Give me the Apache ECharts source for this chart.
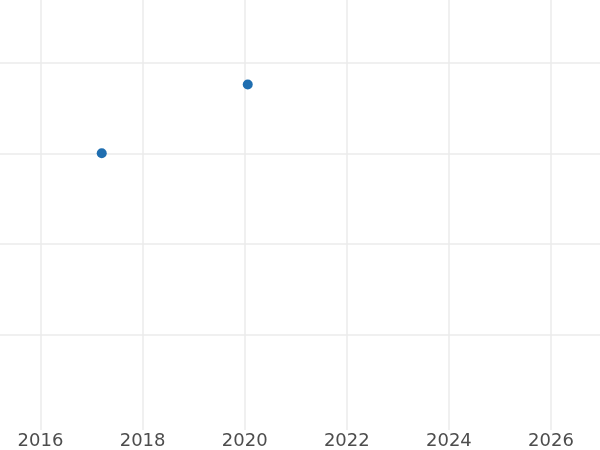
<!DOCTYPE html>
<html>
<head>
<meta charset="utf-8">
<script src="https://cdn.jsdelivr.net/npm/echarts@6/dist/echarts.min.js"></script>
<style>
html,body{margin:0;padding:0;background:#fff;}
#chart{width:600px;height:450px;}
</style>
</head>
<body>
<div id="chart"></div>
<script>
// Data (decimal years, values)
const years = [2017.2, 2020.06];
const values = [3.0, 3.76];
const xTicks = [2016, 2018, 2020, 2022, 2024, 2026];
const yTicks = [1, 2, 3, 4];

const points = years.map((y, i) => [y, values[i]]);

const chart = echarts.init(document.getElementById('chart'), null, {renderer: 'canvas'});
chart.setOption({
  animation: false,
  backgroundColor: '#ffffff',
  grid: { left: 0, right: 0, top: 0, bottom: 18 },
  xAxis: {
    type: 'value',
    min: 2015.207, max: 2026.96,
    axisLine: { show: false },
    axisTick: { show: false, customValues: xTicks },
    axisLabel: {
      color: '#4d4d4d', fontSize: 18, fontFamily: 'DejaVu Sans', margin: 2,
      customValues: xTicks,
      formatter: v => String(v)
    },
    splitLine: { show: true, lineStyle: { color: '#ebebeb', width: 1.5 } }
  },
  yAxis: {
    type: 'value',
    min: -0.055, max: 4.692,
    axisLine: { show: false },
    axisTick: { show: false, customValues: yTicks },
    axisLabel: { show: false, customValues: yTicks },
    splitLine: { show: true, lineStyle: { color: '#ebebeb', width: 1.5 } }
  },
  series: [{
    type: 'scatter',
    data: points,
    symbolSize: 10,
    itemStyle: { color: '#1f6eb0', opacity: 1 }
  }]
});
</script>
</body>
</html>
